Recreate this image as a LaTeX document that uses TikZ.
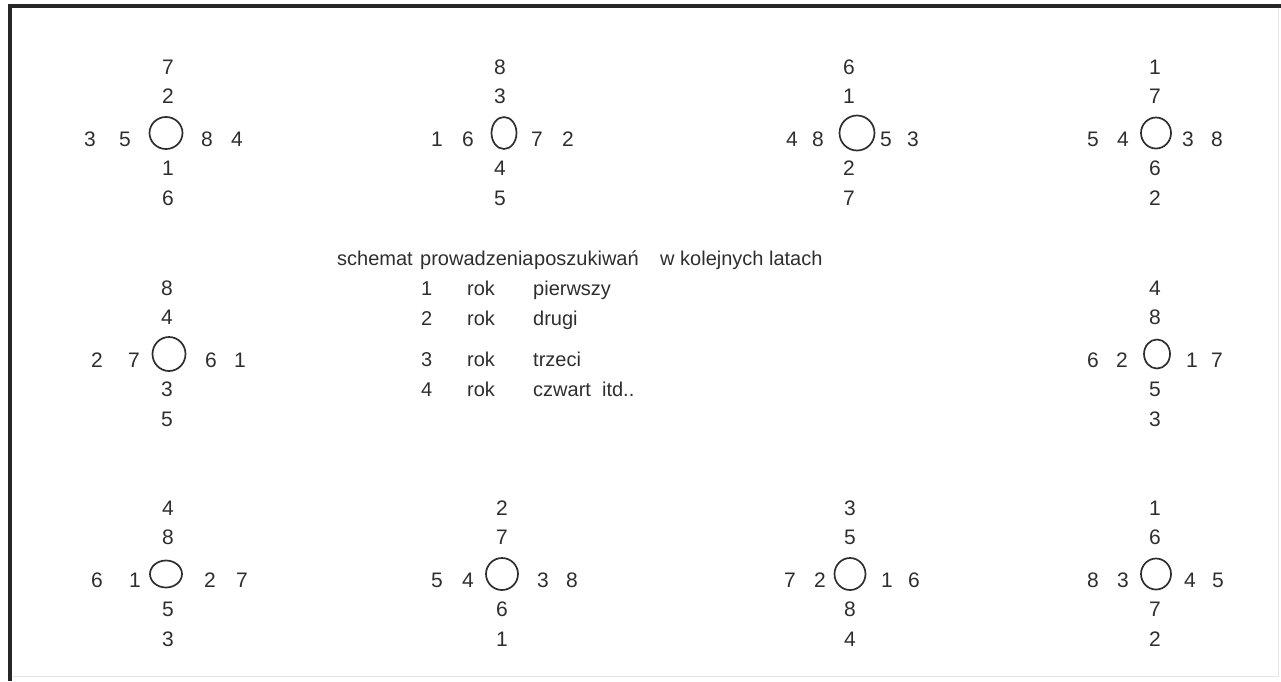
\documentclass[tikz,border=0pt]{standalone}
\usepackage{fontspec}
\setmainfont{Liberation Sans}
\usetikzlibrary{shapes.geometric}
\definecolor{ink}{HTML}{2E2E2E}

\begin{document}
\begin{tikzpicture}[x=1pt,y=-1pt,line cap=round,
  num/.style={text=ink,inner sep=0pt,font=\fontsize{21}{25}\selectfont},
  txt/.style={num,anchor=base west,font=\fontsize{20}{24}\selectfont},
  ring/.style={draw=ink,ellipse,line width=1.7pt,inner sep=0pt}]
\useasboundingbox (0,0) rectangle (1281,681);
% frame
\draw[black!85,line width=4pt,line cap=butt] (10,681) -- (10,6) -- (1281,6);
\draw[black!10] (1278,8) -- (1278,676) -- (12,676);
% crosses: name/top row/column x/ring x/ring size/side digits x/digits top, left, right, bottom
\foreach \n/\R/\cx/\rx/\w/\h/\xa/\xb/\xc/\xd/\ta/\tb/\la/\lb/\ra/\rb/\ba/\bb in {
  1/67/168/166/33/32/90/125/207/237/7/2/3/5/8/4/1/6,
  2/67/500/504/25/32/437/468/537/568/8/3/1/6/7/2/4/5,
  3/67/849/857/35/35/792/818/886/913/6/1/4/8/5/3/2/7,
  4/67/1155/1156/30/31/1093/1123/1188/1217/1/7/5/4/3/8/6/2,
  5/288/167/169/33/34/97/134/211/240/8/4/2/7/6/1/3/5,
  6/288/1155/1157/26/29/1093/1122/1192/1217/4/8/6/2/1/7/5/3,
  7/508/168/166/32/27/97/135/210/242/4/8/6/1/2/7/5/3,
  8/508/502/502/32/32/437/468/543/572/2/7/5/4/3/8/6/1,
  9/508/850/850/31/32/790/820/887/914/3/5/7/2/1/6/8/4,
  10/508/1155/1156/30/31/1093/1123/1190/1218/1/6/8/3/4/5/7/2}{
  \node[ring,minimum width=\w pt,minimum height=\h pt] (c\n) at (\rx,\R+66) {};
  \node[num] (c\n-t1) at (\cx,\R) {\ta};
  \node[num] (c\n-t2) at (\cx,\R+29) {\tb};
  \node[num] (c\n-l1) at (\xa,\R+72) {\la};
  \node[num] (c\n-l2) at (\xb,\R+72) {\lb};
  \node[num] (c\n-r1) at (\xc,\R+72) {\ra};
  \node[num] (c\n-r2) at (\xd,\R+72) {\rb};
  \node[num] (c\n-b1) at (\cx,\R+101) {\ba};
  \node[num] (c\n-b2) at (\cx,\R+131) {\bb};
}
% legend
\node[txt] (h1) at (337,265) {schemat};
\node[txt] (h2) at (420,265) {prowadzenia};
\node[txt] (h3) at (534,265) {poszukiwań};
\node[txt] (h4) at (660,265) {w kolejnych latach};
\foreach \k/\y/\s in {1/295/pierwszy,2/325/drugi,3/366/trzeci,4/396/czwart~~itd..}{
  \node[txt] (y\k) at (421,\y) {\k};
  \node[txt] (r\k) at (467,\y) {rok};
  \node[txt] (s\k) at (533,\y) {\s};
}
\end{tikzpicture}
\end{document}
